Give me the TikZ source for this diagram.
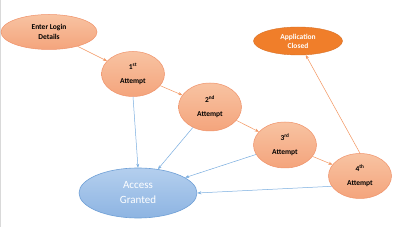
\documentclass[tikz,border=0pt]{standalone}
\usepackage{fontspec}
\setmainfont{Carlito}
\usetikzlibrary{shapes.geometric,arrows.meta}
\definecolor{salmonT}{HTML}{F8C3A2}
\definecolor{salmonB}{HTML}{F4A47C}
\definecolor{salmonD}{HTML}{F0926A}
\definecolor{darkor}{HTML}{F07E2A}
\definecolor{blueT}{HTML}{B4CFEE}
\definecolor{blueB}{HTML}{8DB4E2}
\definecolor{blueD}{HTML}{6E9FD6}
\definecolor{arrowor}{HTML}{F4955F}
\definecolor{arrowbl}{HTML}{7AAEE0}
\tikzset{
  attempt/.style={ellipse, draw=salmonD, line width=0.5pt, top color=salmonT, bottom color=salmonB,
    minimum width=63pt, minimum height=45pt, inner sep=0pt, align=center,
    font=\fontsize{7.5}{14}\selectfont\bfseries, text=black},
  orarrow/.style={draw=arrowor, line width=0.5pt, -{Stealth[length=4pt,width=3pt]}},
  blarrow/.style={draw=arrowbl, line width=0.5pt, -{Stealth[length=4pt,width=3pt]}},
}
\begin{document}
\begin{tikzpicture}[x=1pt,y=-1pt]
\useasboundingbox (0,0) rectangle (400,227);
\fill[white] (0,0) rectangle (400,227);
\draw[gray!30, line width=1pt] (0.5,0) -- (0.5,227);
\node[attempt, minimum width=96pt, minimum height=35pt, font=\fontsize{7.5}{10}\selectfont\bfseries] (login) at (49,32) {Enter Login\\Details};
\node[attempt] (a1) at (133,74) {1\textsuperscript{st}\\Attempt};
\node[attempt, minimum height=48pt] (a2) at (210,107) {2\textsuperscript{nd}\\Attempt};
\node[attempt, minimum height=46pt] (a3) at (285,145) {3\textsuperscript{rd}\\Attempt};
\node[attempt] (a4) at (360,176) {4\textsuperscript{th}\\Attempt};
\node[ellipse, fill=darkor, draw=darkor!90!black, line width=0.4pt, minimum width=89pt, minimum height=28pt,
  inner sep=0pt, align=center, text=white, font=\fontsize{7.5}{9}\selectfont\bfseries] (closed) at (298,41) {Application\\Closed};
\node[ellipse, draw=blueD, line width=0.6pt, top color=blueT, bottom color=blueB,
  minimum width=118pt, minimum height=50pt, inner sep=0pt, align=center, text=white,
  font=\fontsize{11}{15}\selectfont] (acc) at (138,193) {Access\\Granted};
\draw[orarrow] (login) -- (a1);
\draw[orarrow] (a1) -- (a2);
\draw[orarrow] (a2) -- (a3);
\draw[orarrow] (a3) -- (a4);
\draw[orarrow] (a4.north) -- (closed);
\draw[blarrow] (a1.south) -- (acc.north);
\draw[blarrow] (a2) -- (acc);
\draw[blarrow] (a3) -- (acc);
\draw[blarrow] (a4.200) -- (acc.east);
\end{tikzpicture}
\end{document}
